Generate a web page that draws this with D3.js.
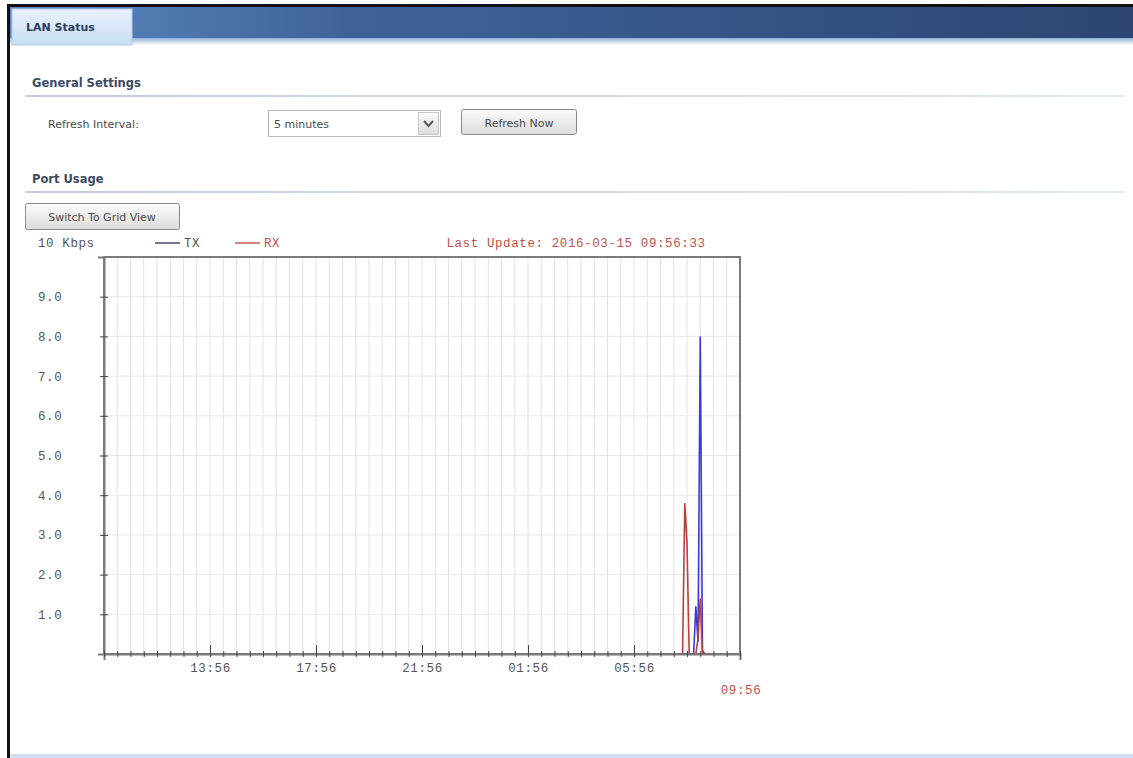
<!DOCTYPE html>
<html>
<head>
<meta charset="utf-8">
<title>LAN Status</title>
<script src="https://d3js.org/d3.v7.min.js"></script>
<style>
  body { margin: 0; background: #fff; }
  svg { display: block; }
  .ui { font-family: "DejaVu Sans", Verdana, sans-serif; font-size: 11px; fill: #4a4a4a; }
  .head { font-family: "DejaVu Sans", Verdana, sans-serif; font-size: 11.5px; font-weight: bold; fill: #3b4a66; }
  .mono { font-family: "Liberation Mono", "DejaVu Sans Mono", monospace; font-size: 12.5px; letter-spacing: 0.6px; }
</style>
</head>
<body>
<div id="container"></div>
<script>
// ---- data (Kbps, 5 minute samples on 2016-03-15) ----
const sampleTimes = ["07:36", "07:41", "07:46", "07:51", "07:56", "08:01", "08:06",
                     "08:11", "08:16", "08:21", "08:26", "08:31", "08:36", "08:41"];
const txValues = [0, 0, 0, 0, 0, 0, 0, 0, 1.2, 0.3, 8.0, 0.1, 0, 0];
const rxValues = [0, 0, 0, 3.8, 2.8, 0, 0, 0, 0, 0.4, 1.4, 0, 0, 0];
const yTicks = [1, 2, 3, 4, 5, 6, 7, 8, 9];
const xLabels = ["13:56", "17:56", "21:56", "01:56", "05:56"];
const startTime = "2016-03-14 09:56";
const endTime = "2016-03-15 09:56";
const tickStepMinutes = 30;
const lastUpdate = "Last Update: 2016-03-15 09:56:33";
const unitLabel = "10 Kbps";

const W = 1133, H = 758;
const svg = d3.select("#container").append("svg")
    .attr("width", W).attr("height", H);

const defs = svg.append("defs");
const hg = defs.append("linearGradient").attr("id", "hdr");
hg.append("stop").attr("offset", "0%").attr("stop-color", "#5d89c3");
hg.append("stop").attr("offset", "30%").attr("stop-color", "#3f6399");
hg.append("stop").attr("offset", "100%").attr("stop-color", "#2d4570");
const hb = defs.append("linearGradient").attr("id", "hdrb").attr("x2", 0).attr("y2", 1);
hb.append("stop").attr("offset", "0%").attr("stop-color", "#8eb0da");
hb.append("stop").attr("offset", "100%").attr("stop-color", "#ffffff");
const tg = defs.append("linearGradient").attr("id", "tab").attr("x2", 0).attr("y2", 1);
tg.append("stop").attr("offset", "0%").attr("stop-color", "#e9f2fc");
tg.append("stop").attr("offset", "100%").attr("stop-color", "#c9ddf4");
const bg = defs.append("linearGradient").attr("id", "btn").attr("x2", 0).attr("y2", 1);
bg.append("stop").attr("offset", "0%").attr("stop-color", "#fbfbfb");
bg.append("stop").attr("offset", "100%").attr("stop-color", "#dcdcdc");
const sg = defs.append("linearGradient").attr("id", "sep");
sg.append("stop").attr("offset", "0%").attr("stop-color", "#c3ccd8");
sg.append("stop").attr("offset", "100%").attr("stop-color", "#e4e9ef");

//------------------------ page chrome ------------------------//
svg.append("rect").attr("x", 8).attr("y", 4).attr("width", W - 8).attr("height", 3).attr("fill", "#111");
svg.append("rect").attr("x", 7).attr("y", 4).attr("width", 3).attr("height", H - 4).attr("fill", "#111");
svg.append("rect").attr("x", 10).attr("y", 7).attr("width", W - 10).attr("height", 32).attr("fill", "url(#hdr)");
svg.append("rect").attr("x", 10).attr("y", 38).attr("width", W - 10).attr("height", 7).attr("fill", "url(#hdrb)");
svg.append("rect").attr("x", 10).attr("y", H - 4).attr("width", W - 10).attr("height", 4).attr("fill", "#cfe0f3");
svg.append("rect").attr("x", 12).attr("y", 9).attr("width", 120).attr("height", 36)
    .attr("fill", "url(#tab)").attr("stroke", "#b5cbe6");
svg.append("text").attr("class", "head").attr("x", 26).attr("y", 31)
    .style("fill", "#2c3d63").style("font-size", "11px").text("LAN Status");

svg.append("text").attr("class", "head").attr("x", 32).attr("y", 87).text("General Settings");
svg.append("rect").attr("x", 25).attr("y", 95).attr("width", 1100).attr("height", 2).attr("fill", "url(#sep)");
svg.append("text").attr("class", "ui").attr("x", 48).attr("y", 128).text("Refresh Interval:");

svg.append("rect").attr("x", 268.5).attr("y", 110.5).attr("width", 172).attr("height", 26)
    .attr("fill", "#fff").attr("stroke", "#b8b8b8");
svg.append("rect").attr("x", 418.5).attr("y", 112.5).attr("width", 20).attr("height", 22)
    .attr("fill", "url(#btn)").attr("stroke", "#c8c8c8");
svg.append("path").attr("d", "M424,121 L428.5,126 L433,121").attr("fill", "none")
    .attr("stroke", "#555").attr("stroke-width", 2);
svg.append("text").attr("class", "ui").attr("x", 274).attr("y", 128).text("5 minutes");

svg.append("rect").attr("x", 461.5).attr("y", 109.5).attr("width", 115).attr("height", 25).attr("rx", 2)
    .attr("fill", "url(#btn)").attr("stroke", "#8a8a8a");
svg.append("text").attr("class", "ui").attr("x", 519).attr("y", 127).attr("text-anchor", "middle").text("Refresh Now");

svg.append("text").attr("class", "head").attr("x", 32).attr("y", 183).text("Port Usage");
svg.append("rect").attr("x", 25).attr("y", 191).attr("width", 1100).attr("height", 2).attr("fill", "url(#sep)");
svg.append("rect").attr("x", 25.5).attr("y", 203.5).attr("width", 154).attr("height", 26).attr("rx", 2)
    .attr("fill", "url(#btn)").attr("stroke", "#8a8a8a");
svg.append("text").attr("class", "ui").attr("x", 102).attr("y", 221).attr("text-anchor", "middle").text("Switch To Grid View");

//------------------------ chart ------------------------//
const parse = d3.timeParse("%Y-%m-%d %H:%M");
const t0 = parse(startTime), t1 = parse(endTime);
const x = d3.scaleTime().domain([t0, t1]).range([104, 740]);
const y = d3.scaleLinear().domain([0, 10]).range([654, 257]);

// tick every 30 minutes, counted from the left edge of the window
const nSteps = Math.round((t1 - t0) / 60000 / tickStepMinutes);
const halfHours = d3.range(nSteps + 1).map(i => d3.timeMinute.offset(t0, i * tickStepMinutes));
const fmt = d3.timeFormat("%H:%M");
const isMajor = (d, i) => i > 0 && i < nSteps && xLabels.includes(fmt(d));

const series = [
  { id: "TX", color: "#3a3adb", values: sampleTimes.map((s, i) => ({ date: parse("2016-03-15 " + s), v: txValues[i] })) },
  { id: "RX", color: "#b8413f", values: sampleTimes.map((s, i) => ({ date: parse("2016-03-15 " + s), v: rxValues[i] })) }
];

// grid
const grid = svg.append("g");
grid.selectAll(".vg").data(halfHours).enter().append("line")
    .attr("x1", d => x(d)).attr("x2", d => x(d)).attr("y1", y(10)).attr("y2", y(0))
    .attr("stroke", "#e2e2e2").attr("stroke-width", 1);
grid.selectAll(".hg").data(yTicks).enter().append("line")
    .attr("x1", x(t0)).attr("x2", x(t1)).attr("y1", d => y(d)).attr("y2", d => y(d))
    .attr("stroke", "#e8e8e8").attr("stroke-width", 1);

// frame
svg.append("rect").attr("x", x(t0)).attr("y", y(10)).attr("width", x(t1) - x(t0)).attr("height", y(0) - y(10))
    .attr("fill", "none").attr("stroke", "#7a7a7a").attr("stroke-width", 2);

// lines
const line = d3.line().x(d => x(d.date)).y(d => y(d.v));
svg.selectAll(".series").data(series).enter().append("path")
    .attr("d", d => line(d.values)).attr("fill", "none")
    .attr("stroke", d => d.color).attr("stroke-width", 1.6);

// y axis
const yAxis = svg.append("g").attr("transform", `translate(${x(t0)},0)`)
    .call(d3.axisLeft(y).tickValues(yTicks).tickFormat(d3.format(".1f")));
yAxis.select(".domain").attr("stroke", "#7a7a7a").attr("stroke-width", 2);
yAxis.selectAll(".tick line").attr("x1", -4).attr("x2", 4).attr("stroke", "#444");
yAxis.selectAll(".tick text").attr("class", "mono").attr("x", 38 - x(t0)).attr("text-anchor", "start")
    .attr("fill", "#555").style("font-size", null);

// x axis
const xAxis = svg.append("g").attr("transform", `translate(0,${y(0)})`)
    .call(d3.axisBottom(x).tickValues(halfHours).tickFormat((d, i) => isMajor(d, i) ? fmt(d) : ""));
xAxis.select(".domain").attr("stroke", "#7a7a7a").attr("stroke-width", 2);
xAxis.selectAll(".tick line").attr("y1", (d, i) => isMajor(d, i) ? -9 : -3).attr("y2", 3).attr("stroke", "#444");
xAxis.selectAll(".tick text").attr("class", "mono").attr("y", 9).attr("fill", "#555").style("font-size", null);

svg.append("text").attr("class", "mono").attr("x", x(t1) + 1).attr("y", 694)
    .attr("text-anchor", "middle").attr("fill", "#c0504d").text(fmt(t1));

// header row
svg.append("text").attr("class", "mono").attr("x", 38).attr("y", 247).attr("fill", "#555").text(unitLabel);
const legend = svg.selectAll(".legend").data(series).enter().append("g")
    .attr("transform", (d, i) => `translate(${155 + i * 80},243)`);
legend.append("line").attr("x1", 0).attr("x2", 25).attr("stroke", (d, i) => i ? "#b8413f" : "#2a2a5a").attr("stroke-width", 1.3);
legend.append("text").attr("class", "mono").attr("x", 29).attr("y", 4)
    .attr("fill", (d, i) => i ? "#c0504d" : "#555").text(d => d.id);
svg.append("text").attr("class", "mono").attr("x", 576).attr("y", 247).attr("text-anchor", "middle")
    .attr("fill", "#c0504d").text(lastUpdate);
</script>
</body>
</html>
